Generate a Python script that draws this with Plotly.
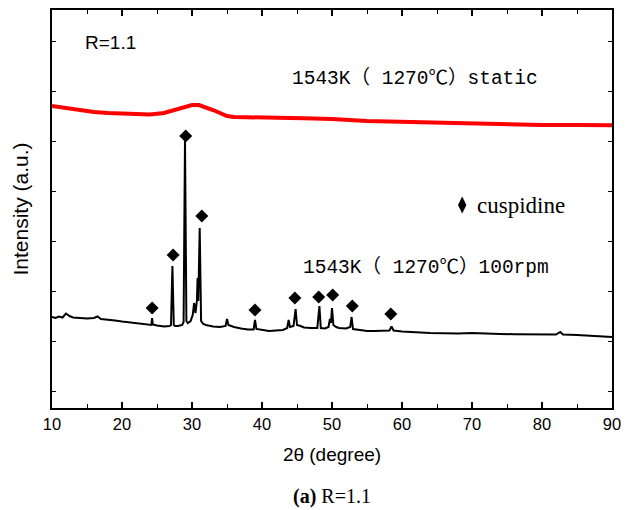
import plotly.graph_objects as go

# ---- data (2θ in degrees, intensity in arbitrary counts) ----
black_x = [10, 10.5, 11, 11.5, 12, 12.5, 13, 14, 15, 16, 16.5, 17, 18, 19, 20, 21, 22, 23, 24,
           24.2, 24.3, 24.4, 25, 26, 26.8, 27.0, 27.2, 27.4, 27.6, 28, 28.6, 28.8, 29.0, 29.2,
           29.4, 29.8, 30.1, 30.3, 30.5, 30.7, 30.8, 30.9, 31.1, 31.3, 31.6, 32, 33, 34, 34.8,
           35.0, 35.2, 36, 37, 38, 38.8, 39.0, 39.2, 40, 41, 42, 43, 43.6, 43.8, 44.0, 44.5,
           44.8, 45.0, 45.5, 46, 47, 47.9, 48.2, 48.4, 49, 49.5, 49.7, 49.85, 50.0, 50.2, 50.6,
           51, 52, 52.6, 52.8, 53.0, 54, 55, 56, 57, 58.2, 58.5, 58.8, 60, 62, 64, 66, 68, 70,
           72, 74, 76, 78, 80, 82, 82.6, 83, 85, 87, 88, 90]
black_y = [740, 730, 745, 735, 775, 750, 735, 730, 725, 730, 745, 720, 715, 705, 695, 685, 680, 665, 660,
           660, 730, 665, 655, 645, 650, 660, 1250, 660, 650, 650, 660, 690, 2510, 700,
           680, 700, 760, 880, 780, 900, 1130, 900, 1630, 700, 670, 660, 645, 640, 650,
           720, 660, 640, 625, 615, 615, 710, 620, 610, 600, 605, 610, 630, 710, 640, 650,
           820, 660, 650, 635, 630, 630, 850, 630, 625, 640, 720, 680, 830, 660, 640,
           630, 625, 640, 740, 620, 610, 600, 600, 600, 605, 645, 605, 595, 585, 580, 578, 575, 580,
           572, 570, 568, 566, 565, 565, 590, 565, 560, 555, 550, 540]

red_x = [10, 12, 14, 16, 18, 20, 22, 24, 26, 27, 28, 29, 30, 31, 32, 33, 34, 35, 36, 38, 40,
         42, 44, 46, 48, 50, 55, 60, 65, 70, 75, 80, 85, 90]
red_y = [2850, 2830, 2800, 2790, 2780, 2775, 2770, 2765, 2780, 2800, 2820, 2840, 2860, 2860, 2840,
         2810, 2780, 2750, 2740, 2735, 2730, 2730, 2730, 2728, 2725, 2720, 2700, 2690, 2680, 2670,
         2665, 2660, 2660, 2658]

cusp_x = [24.3, 27.3, 29.1, 31.4, 39.0, 44.7, 48.1, 50.1, 52.9, 58.4]
cusp_y = [830, 1360, 2550, 1750, 810, 930, 940, 960, 850, 770]

x_ticks = [10, 20, 30, 40, 50, 60, 70, 80, 90]

fig = go.Figure()
fig.add_trace(go.Scatter(x=red_x, y=red_y, mode="lines",
                         line=dict(color="#ff0000", width=4), showlegend=False))
fig.add_trace(go.Scatter(x=black_x, y=black_y, mode="lines",
                         line=dict(color="black", width=2), showlegend=False))
fig.add_trace(go.Scatter(x=cusp_x, y=cusp_y, mode="markers",
                         marker=dict(symbol="diamond", size=10, color="black"), showlegend=False))
# legend marker
fig.add_trace(go.Scatter(x=[68.6], y=[1860], mode="markers",
                         marker=dict(symbol="diamond-tall", size=12, color="black"), showlegend=False))

serif = "Liberation Serif, Noto Sans CJK SC"
mono = "Liberation Mono, Noto Sans CJK SC"
sans = "Liberation Sans, Arial"

fig.add_annotation(x=14.4, y=3490, text="R=1.1", showarrow=False, xanchor="left",
                   font=dict(family=sans, size=19, color="black"))
fig.add_annotation(x=44.0, y=3130, text="1543K（ 1270℃）static", showarrow=False, xanchor="left",
                   font=dict(family=mono, size=19.5, color="black"))
fig.add_annotation(x=45.6, y=1240, text="1543K（ 1270℃）100rpm", showarrow=False, xanchor="left",
                   font=dict(family=mono, size=19.5, color="black"))
fig.add_annotation(x=70.4, y=1860, text="cuspidine", showarrow=False, xanchor="left",
                   font=dict(family=serif, size=23, color="black"))
fig.add_annotation(x=0.5, y=-0.2235, xref="paper", yref="paper", yanchor="middle",
                   text="<b>(a)</b> R=1.1", showarrow=False,
                   font=dict(family=serif, size=20, color="black"))

fig.update_xaxes(range=[10, 90], tickvals=x_ticks, ticks="inside", ticklen=6, tickwidth=1.5,
                 tickcolor="black", showline=True, linewidth=2, linecolor="black", mirror="allticks",
                 showgrid=False, zeroline=False, automargin=False,
                 minor=dict(dtick=5, tick0=5, ticks="inside", ticklen=4, tickwidth=1.2, tickcolor="black"),
                 tickfont=dict(family=sans, size=16.5, color="black"),
                 title=dict(text="2θ (degree)", font=dict(family=sans, size=19, color="black"), standoff=16))
fig.update_yaxes(range=[-170, 3810], tick0=0, dtick=500, ticks="inside", ticklen=4, tickwidth=1.2,
                 tickcolor="black", showticklabels=False, showline=True, linewidth=2, linecolor="black",
                 mirror="allticks", showgrid=False, zeroline=False, automargin=False,
                 title=dict(text="Intensity (a.u.)", font=dict(family=sans, size=21, color="black"), standoff=16))

fig.update_layout(template="none", width=627, height=510, margin=dict(l=52, r=15, t=10, b=102),
                  plot_bgcolor="white", paper_bgcolor="white")

fig.write_html("out.html", config={"displayModeBar": False},
               post_script="document.body.style.margin='0';document.body.style.overflow='hidden';")
